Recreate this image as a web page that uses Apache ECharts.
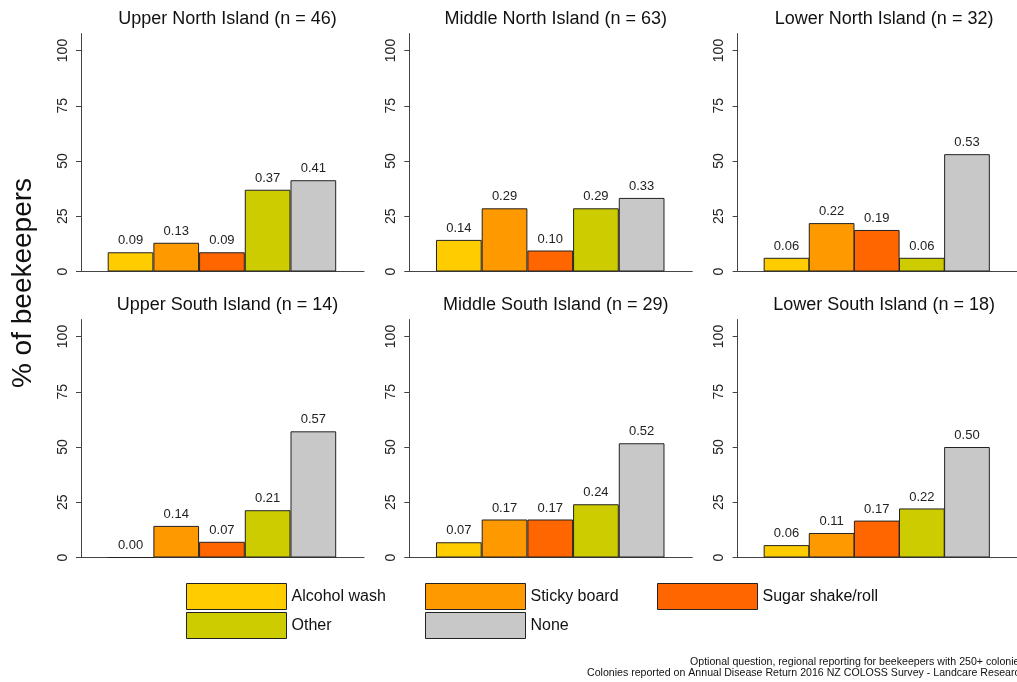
<!DOCTYPE html>
<html>
<head>
<meta charset="utf-8">
<script src="https://cdn.jsdelivr.net/npm/echarts@6/dist/echarts.min.js"></script>
<style>
  html, body { margin: 0; padding: 0; background: #ffffff; }
  #chart { width: 1017px; height: 682px; }
</style>
</head>
<body>
<div id="chart"></div>
<script>
// ---- Data ----
const categories = ['Alcohol wash', 'Sticky board', 'Sugar shake/roll', 'Other', 'None'];
const regionTitles = [
  'Upper North Island (n = 46)', 'Middle North Island (n = 63)', 'Lower North Island (n = 32)',
  'Upper South Island (n = 14)', 'Middle South Island (n = 29)', 'Lower South Island (n = 18)'
];
// proportion of beekeepers using each method
const upperNorth  = [0.087, 0.130, 0.087, 0.370, 0.413];
const middleNorth = [0.143, 0.286, 0.095, 0.286, 0.333];
const lowerNorth  = [0.062, 0.219, 0.188, 0.062, 0.531];
const upperSouth  = [0.000, 0.143, 0.071, 0.214, 0.571];
const middleSouth = [0.069, 0.172, 0.172, 0.241, 0.517];
const lowerSouth  = [0.056, 0.111, 0.167, 0.222, 0.500];
const yTicks = [0, 25, 50, 75, 100];
const yAxisTitle = '% of beekeepers';
const footnotes = [
  'Optional question, regional reporting for beekeepers with 250+ colonies',
  'Colonies reported on Annual Disease Return 2016 NZ COLOSS Survey - Landcare Research'
];

// ---- Styles / layout ----
const panelValues = [upperNorth, middleNorth, lowerNorth, upperSouth, middleSouth, lowerSouth];
const barColors = ['#FFCC00', '#FF9900', '#FF6600', '#CCCC00', '#C8C8C8'];
const FONT = "'Liberation Sans', Arial, Helvetica, sans-serif";
const colLefts = [81, 409.3, 737.6];
const rowTops = [33.5, 319.5];
const gridW = 283, gridH = 238;
const barPx = 45.7;
const yMax = 107.7;
const xMin = -1.084, xMax = xMin + gridW / barPx;

const grids = [], xAxes = [], yAxes = [], titles = [], series = [];
panelValues.forEach((vals, p) => {
  const col = p % 3, row = Math.floor(p / 3);
  grids.push({ left: colLefts[col], top: rowTops[row], width: gridW, height: gridH, containLabel: false });
  xAxes.push({
    type: 'value', gridIndex: p, min: xMin, max: xMax,
    axisLine: { show: true, onZero: false, lineStyle: { color: '#444', width: 1 } },
    axisTick: { show: false }, axisLabel: { show: false }, splitLine: { show: false }
  });
  yAxes.push({
    type: 'value', gridIndex: p, min: 0, max: yMax, position: 'left',
    axisLine: { show: true, onZero: false, lineStyle: { color: '#444', width: 1 } },
    axisTick: { show: true, length: 5, customValues: yTicks, lineStyle: { color: '#444' } },
    axisLabel: { show: true, rotate: 90, margin: 11, customValues: yTicks,
      fontFamily: FONT, fontSize: 14, color: '#222' },
    splitLine: { show: false }
  });
  titles.push({
    text: regionTitles[p], left: colLefts[col] + gridW / 2, top: rowTops[row] - 28,
    textAlign: 'center',
    textStyle: { fontFamily: FONT, fontSize: 18, fontWeight: 'normal', color: '#111' }
  });
  vals.forEach((v, i) => {
    series.push({
      type: 'bar', name: categories[i], xAxisIndex: p, yAxisIndex: p,
      data: [[i, v * 100]], barWidth: barPx, barGap: '-100%',
      itemStyle: { color: barColors[i], borderColor: '#222', borderWidth: 1 },
      label: {
        show: true, position: 'top', distance: 5,
        fontFamily: FONT, fontSize: 13, color: '#222',
        formatter: (prm) => (prm.value[1] / 100).toFixed(2)
      },
      emphasis: { disabled: true },
      animation: false
    });
  });
});

const legendBase = {
  orient: 'vertical', itemWidth: 100, itemHeight: 26, itemGap: 2, padding: 0,
  icon: 'rect', selectedMode: false,
  itemStyle: { borderWidth: 1, borderColor: '#222' },
  textStyle: { fontFamily: FONT, fontSize: 16, color: '#111' }
};

const option = {
  animation: false,
  backgroundColor: '#ffffff',
  title: titles,
  grid: grids,
  xAxis: xAxes,
  yAxis: yAxes,
  legend: [
    Object.assign({}, legendBase, { data: [categories[0], categories[3]], left: 186, top: 583 }),
    Object.assign({}, legendBase, { data: [categories[1], categories[4]], left: 425, top: 583 }),
    Object.assign({}, legendBase, { data: [categories[2]], left: 657, top: 583 })
  ],
  graphic: [
    { type: 'text', x: 23, y: 283, rotation: Math.PI / 2,
      style: { text: yAxisTitle, fontFamily: FONT, fontSize: 28, fill: '#111',
        align: 'center', verticalAlign: 'middle' } },
    { type: 'text', x: 690, y: 662,
      style: { text: footnotes[0], fontFamily: FONT, fontSize: 10.6, fill: '#111',
        align: 'left', verticalAlign: 'middle' } },
    { type: 'text', x: 587, y: 673,
      style: { text: footnotes[1], fontFamily: FONT, fontSize: 10.6, fill: '#111',
        align: 'left', verticalAlign: 'middle' } }
  ],
  series: series
};

const chart = echarts.init(document.getElementById('chart'), null, { renderer: 'canvas' });
chart.setOption(option);
</script>
</body>
</html>
